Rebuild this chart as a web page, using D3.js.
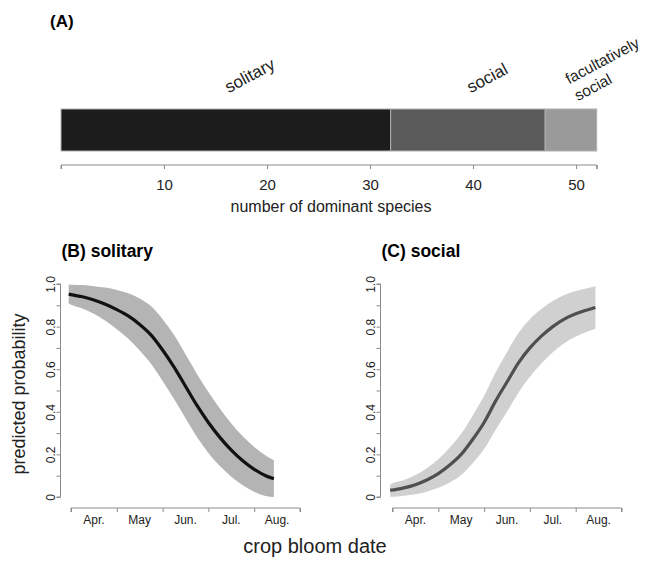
<!DOCTYPE html>
<html>
<head>
<meta charset="utf-8">
<script src="https://cdn.jsdelivr.net/npm/d3@7"></script>
<style>
  body { margin: 0; background: #fff; }
  svg { display: block; font-family: "Liberation Sans", Arial, sans-serif; }
  .axis path, .axis line { stroke: #8a8a8a; }
  .axis text { fill: #222; }
</style>
</head>
<body>
<div id="chart"></div>
<script>
// panel A: counts of dominant species
var groups = ["solitary", "social", "facultatively social"];
var groupCounts = [32, 15, 5];
var groupColors = ["#1c1c1c", "#5a5a5a", "#9a9a9a"];
var countTicks = [10, 20, 30, 40, 50];

// panels B, C: predicted probability vs crop bloom date (months since 1 Apr)
var months = ["Apr.", "May", "Jun.", "Jul.", "Aug."];
var dateSteps = [-0.05, 0, 0.25, 0.5, 0.75, 1, 1.25, 1.5, 1.75, 2, 2.25, 2.5, 2.75, 3, 3.25, 3.5, 3.75, 4, 4.25, 4.43];
var solitaryFit  = [0.953, 0.95, 0.94, 0.925, 0.905, 0.88, 0.85, 0.81, 0.76, 0.69, 0.61, 0.52, 0.43, 0.35, 0.28, 0.22, 0.17, 0.13, 0.10, 0.086];
var solitaryHigh = [0.998, 0.997, 0.995, 0.99, 0.983, 0.972, 0.957, 0.932, 0.895, 0.835, 0.76, 0.67, 0.578, 0.493, 0.415, 0.345, 0.285, 0.235, 0.195, 0.173];
var solitaryLow  = [0.908, 0.903, 0.885, 0.86, 0.827, 0.788, 0.743, 0.688, 0.625, 0.545, 0.46, 0.37, 0.282, 0.207, 0.145, 0.095, 0.055, 0.025, 0.005, 0.0];
var socialFit  = [0.031, 0.033, 0.043, 0.058, 0.08, 0.11, 0.15, 0.2, 0.27, 0.35, 0.45, 0.54, 0.63, 0.70, 0.755, 0.80, 0.835, 0.86, 0.878, 0.89];
var socialHigh = [0.061, 0.065, 0.08, 0.103, 0.135, 0.177, 0.232, 0.297, 0.382, 0.475, 0.585, 0.68, 0.77, 0.835, 0.883, 0.92, 0.948, 0.967, 0.98, 0.99];
var socialLow  = [0.001, 0.001, 0.006, 0.013, 0.025, 0.043, 0.068, 0.103, 0.158, 0.225, 0.315, 0.40, 0.49, 0.565, 0.627, 0.68, 0.722, 0.753, 0.776, 0.79];
var probTicks = [0, 0.1, 0.2, 0.3, 0.4, 0.5, 0.6, 0.7, 0.8, 0.9, 1];

var width = 648, height = 562;

var svg = d3.select("#chart").append("svg")
    .attr("width", width)
    .attr("height", height);

// ---- panel A ----
var total = d3.sum(groupCounts);
var x = d3.scaleLinear().domain([0, total]).range([61, 596.7]);
var starts = d3.cumsum([0].concat(groupCounts.slice(0, -1)));

svg.append("text")
    .attr("x", 50).attr("y", 27)
    .style("font-size", "17px").style("font-weight", "bold")
    .text("(A)");

svg.append("g").selectAll("rect")
    .data(groupCounts)
    .enter().append("rect")
    .attr("x", function(d, i) { return x(starts[i]); })
    .attr("y", 109)
    .attr("width", function(d) { return x(d) - x(0); })
    .attr("height", 42)
    .attr("fill", function(d, i) { return groupColors[i]; })
    .attr("stroke", "#b0b0b0")
    .attr("stroke-width", 1);

// group names, rotated, starting above the middle of each bar
var labels = svg.append("g").selectAll("text")
    .data(groups)
    .enter().append("text")
    .attr("transform", function(d, i) {
      return "translate(" + x(starts[i] + groupCounts[i] / 2) + ",88) rotate(-28)";
    })
    .style("font-size", function(d) { return d === "facultatively social" ? "15.5px" : "17px"; })
    .attr("fill", "#222");
labels.each(function(d) {
  var words = d === "facultatively social" ? ["facultatively", "social"] : [d];
  var t = d3.select(this);
  words.forEach(function(w, j) {
    t.append("tspan")
      .attr("x", 0)
      .attr("y", (j - (words.length - 1) / 2) * 19)
      .attr("dy", "0.35em")
      .text(w);
  });
});

var countAxis = svg.append("g")
    .attr("class", "axis")
    .attr("transform", "translate(0,165)")
    .call(d3.axisBottom(x).tickValues([0].concat(countTicks, [total]))
      .tickSize(4).tickPadding(10)
      .tickFormat(function(d) { return countTicks.indexOf(d) >= 0 ? d : ""; }));
countAxis.select(".domain").attr("d", "M" + x(0) + ",4V0H" + x(total) + "V4");
countAxis.selectAll("text").style("font-size", "15px");

svg.append("text")
    .attr("x", 331).attr("y", 212)
    .attr("text-anchor", "middle")
    .style("font-size", "16px").attr("fill", "#222")
    .text("number of dominant species");

// ---- panels B, C ----
var y = d3.scaleLinear().domain([0, 1]).range([497, 284]);

function panel(title, yAxisX, xRange, fit, low, high, lineColor, bandColor) {
  var xm = d3.scaleLinear().domain([0, months.length]).range(xRange);
  var g = svg.append("g");

  g.append("text")
      .attr("x", yAxisX + 1).attr("y", 257)
      .style("font-size", "17.5px").style("font-weight", "bold")
      .text(title);

  var pts = dateSteps.map(function(m, i) { return {m: m, fit: fit[i], lo: low[i], hi: high[i]}; });

  g.append("path")
      .datum(pts)
      .attr("fill", bandColor)
      .attr("d", d3.area()
        .x(function(d) { return xm(d.m); })
        .y0(function(d) { return y(d.lo); })
        .y1(function(d) { return y(d.hi); })
        .curve(d3.curveMonotoneX));

  g.append("path")
      .datum(pts)
      .attr("fill", "none")
      .attr("stroke", lineColor)
      .attr("stroke-width", 3.2)
      .attr("d", d3.line()
        .x(function(d) { return xm(d.m); })
        .y(function(d) { return y(d.fit); })
        .curve(d3.curveMonotoneX));

  var yAx = g.append("g")
      .attr("class", "axis")
      .attr("transform", "translate(" + yAxisX + ",0)")
      .call(d3.axisLeft(y).tickValues(probTicks).tickSize(4)
        .tickFormat(function(d, i) { return i % 2 ? "" : (d === 0 ? "0" : d3.format(".1f")(d)); }));
  yAx.select(".domain").attr("d", "M-4," + y(0) + "H0V" + y(1) + "H-4");
  yAx.selectAll(".tick text")
      .attr("x", 0).attr("dy", null)
      .attr("transform", "translate(-10,0) rotate(-90)")
      .attr("text-anchor", "middle")
      .attr("dominant-baseline", "central")
      .style("font-size", "12px");

  var xAx = g.append("g")
      .attr("class", "axis")
      .attr("transform", "translate(0,508)")
      .call(d3.axisBottom(xm).tickValues(d3.range(months.length + 1)).tickSize(4).tickFormat(""));
  xAx.select(".domain").attr("d", "M" + xRange[0] + ",4V0H" + xRange[1] + "V4");

  g.append("g").selectAll("text")
      .data(months)
      .enter().append("text")
      .attr("x", function(d, i) { return xm(i + 0.5); })
      .attr("y", 524)
      .attr("text-anchor", "middle")
      .style("font-size", "12px").attr("fill", "#222")
      .text(function(d) { return d; });
}

panel("(B) solitary", 60.5, [71, 300], solitaryFit, solitaryLow, solitaryHigh, "#111111", "#b4b4b4");
panel("(C) social", 380.5, [392.5, 621.5], socialFit, socialLow, socialHigh, "#4f4f4f", "#d0d0d0");

svg.append("text")
    .attr("transform", "translate(25,394) rotate(-90)")
    .attr("text-anchor", "middle")
    .style("font-size", "18px").attr("fill", "#222")
    .text("predicted probability");

svg.append("text")
    .attr("x", 315).attr("y", 553)
    .attr("text-anchor", "middle")
    .style("font-size", "20px").attr("fill", "#222")
    .text("crop bloom date");
</script>
</body>
</html>
